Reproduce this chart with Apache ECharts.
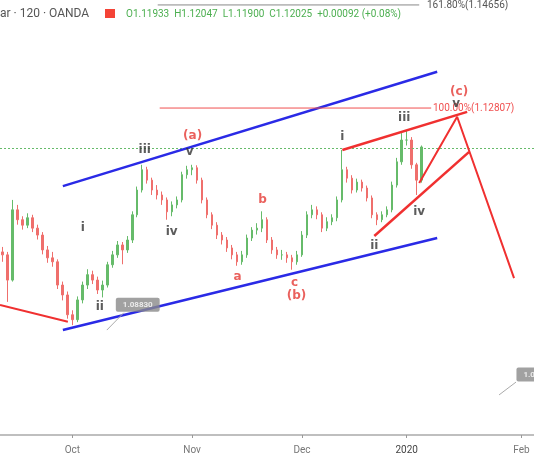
<!DOCTYPE html>
<html>
<head>
<meta charset="utf-8">
<script src="https://cdn.jsdelivr.net/npm/echarts@6/dist/echarts.min.js"></script>
<style>html,body{margin:0;padding:0;background:#fff}#main{width:534px;height:462px}</style>
</head>
<body>
<div id="main"></div>
<script>
// bar index -> [open, close, low, high]
let candles = [
    [1.0990, 1.0984, 1.0970, 1.1000], [1.0984, 1.0933, 1.0889, 1.0990], [1.0933, 1.1075, 1.0930, 1.1095],
    [1.1075, 1.1055, 1.1045, 1.1085], [1.1055, 1.1044, 1.1035, 1.1062], [1.1044, 1.1059, 1.1038, 1.1068],
    [1.1059, 1.1038, 1.1030, 1.1065], [1.1038, 1.1024, 1.1015, 1.1045], [1.1024, 1.0994, 1.0985, 1.1030],
    [1.0994, 1.0978, 1.0968, 1.1002], [1.0978, 1.0970, 1.0960, 1.0990], [1.0970, 1.0923, 1.0915, 1.0975],
    [1.0923, 1.0903, 1.0892, 1.0930], [1.0903, 1.0863, 1.0855, 1.0910], [1.0863, 1.0853, 1.0842, 1.0872],
    [1.0853, 1.0893, 1.0848, 1.0900], [1.0893, 1.0923, 1.0886, 1.0930], [1.0923, 1.0944, 1.0915, 1.0955],
    [1.0944, 1.0933, 1.0925, 1.0952], [1.0933, 1.0913, 1.0905, 1.0940], [1.0913, 1.0923, 1.0898, 1.0932],
    [1.0923, 1.0964, 1.0918, 1.0970], [1.0964, 1.0984, 1.0958, 1.0992], [1.0984, 1.1004, 1.0978, 1.1012],
    [1.1004, 1.0994, 1.0965, 1.1010], [1.0994, 1.1014, 1.0988, 1.1022], [1.1014, 1.1065, 1.1008, 1.1072],
    [1.1065, 1.1115, 1.1060, 1.1122], [1.1115, 1.1156, 1.1110, 1.1166], [1.1156, 1.1135, 1.1128, 1.1162],
    [1.1135, 1.1115, 1.1105, 1.1140], [1.1115, 1.1105, 1.1096, 1.1125], [1.1105, 1.1095, 1.1085, 1.1112],
    [1.1095, 1.1071, 1.1055, 1.1100], [1.1071, 1.1085, 1.1062, 1.1092], [1.1085, 1.1095, 1.1078, 1.1102],
    [1.1095, 1.1146, 1.1090, 1.1152], [1.1146, 1.1156, 1.1138, 1.1164], [1.1156, 1.1160, 1.1145, 1.1166],
    [1.1160, 1.1135, 1.1128, 1.1165], [1.1135, 1.1095, 1.1088, 1.1140], [1.1095, 1.1065, 1.1058, 1.1100],
    [1.1065, 1.1044, 1.1036, 1.1070], [1.1044, 1.1024, 1.1016, 1.1050], [1.1024, 1.1014, 1.1005, 1.1030],
    [1.1014, 1.0998, 1.0990, 1.1020], [1.0998, 1.0984, 1.0975, 1.1004], [1.0984, 1.0970, 1.0962, 1.0990],
    [1.0970, 1.0984, 1.0964, 1.0992], [1.0984, 1.1018, 1.0978, 1.1025], [1.1018, 1.1034, 1.1012, 1.1040],
    [1.1034, 1.1038, 1.1025, 1.1048], [1.1038, 1.1055, 1.1030, 1.1072], [1.1055, 1.1014, 1.1008, 1.1060],
    [1.1014, 1.0994, 1.0986, 1.1020], [1.0994, 1.0984, 1.0976, 1.1000], [1.0984, 1.0984, 1.0974, 1.0994],
    [1.0984, 1.0978, 1.0968, 1.0990], [1.0978, 1.0970, 1.0954, 1.0984], [1.0970, 1.0984, 1.0964, 1.0992],
    [1.0984, 1.1024, 1.0980, 1.1032], [1.1024, 1.1065, 1.1018, 1.1072], [1.1065, 1.1075, 1.1058, 1.1085],
    [1.1075, 1.1065, 1.1056, 1.1082], [1.1065, 1.1038, 1.1030, 1.1070], [1.1038, 1.1051, 1.1032, 1.1060],
    [1.1051, 1.1059, 1.1044, 1.1066], [1.1059, 1.1095, 1.1052, 1.1102], [1.1095, 1.1156, 1.1090, 1.1196],
    [1.1156, 1.1139, 1.1130, 1.1162], [1.1139, 1.1115, 1.1108, 1.1145], [1.1115, 1.1131, 1.1110, 1.1138],
    [1.1131, 1.1119, 1.1112, 1.1136], [1.1119, 1.1099, 1.1092, 1.1124], [1.1099, 1.1065, 1.1058, 1.1104],
    [1.1065, 1.1055, 1.1044, 1.1070], [1.1055, 1.1065, 1.1050, 1.1072], [1.1065, 1.1075, 1.1060, 1.1082],
    [1.1075, 1.1125, 1.1070, 1.1132], [1.1125, 1.1172, 1.1120, 1.1180], [1.1172, 1.1216, 1.1166, 1.1230],
    [1.1216, 1.1216, 1.1205, 1.1236], [1.1216, 1.1166, 1.1158, 1.1222], [1.1166, 1.1135, 1.1105, 1.1170],
    [1.1135, 1.1202, 1.1130, 1.1205]
];
let monthTicks = [14, 38, 60, 81, 104];
let monthLabels = ['Oct', 'Nov', 'Dec', '2020', 'Feb'];
let lastClose = 1.12025;

let channelTop = [[12.1, 1.1123], [87.1, 1.1354]];
let channelBottom = [[12.1, 1.0832], [87.1, 1.1018]];
let leftTrend = [[-0.5, 1.0883], [13.1, 1.0849]];
let fib100 = [[31.5, 1.12807], [85.9, 1.12807]];
let fib161 = [[31.1, 1.1489], [83.5, 1.1489]];
let wedgeTop = [[68.1, 1.1196], [93.1, 1.1273]];
let wedgeBottom = [[74.5, 1.1022], [93.5, 1.1192]];
let projection = [[83.5, 1.1129], [91.1, 1.1263], [102.5, 1.0937]];
let pointerA = [[20.9, 1.0832], [24.3, 1.0867]];
let pointerB = [[99.5, 1.0701], [102.9, 1.0727]];

// [index, price, text, colour]
let waveLabels = [
    [16.1, 1.1038, 'i', '#333'], [19.5, 1.0879, 'ii', '#333'], [28.5, 1.1196, 'iii', '#333'],
    [33.9, 1.1030, 'iv', '#333'], [37.5, 1.1192, 'v', '#333'], [38.1, 1.1224, '(a)', '#e53935'],
    [47.1, 1.0939, 'a', '#e53935'], [52.1, 1.1095, 'b', '#e53935'], [58.5, 1.0927, 'c', '#e53935'],
    [58.9, 1.0901, '(b)', '#e53935'], [68.1, 1.1222, 'i', '#333'], [74.5, 1.1002, 'ii', '#333'],
    [80.5, 1.1261, 'iii', '#333'], [83.5, 1.1071, 'iv', '#333'], [91.5, 1.1313, '(c)', '#e53935'],
    [90.9, 1.1289, 'v', '#333']
];
let priceTags = [[27.1, 1.0883, '1.08830'], [106, 1.0742, '1.07']];

function lineSeries(data, color, width, type) {
    return {
        type: 'line', data: data, symbol: 'none', silent: true, z: 5,
        lineStyle: {color: color, width: width, type: type || 'solid'}
    };
}

let myChart = echarts.init(document.getElementById('main'));
myChart.setOption({
    animation: false,
    grid: {left: 0, right: 0, top: 0, bottom: 27},
    xAxis: {
        type: 'value', min: -0.5, max: 106.5,
        splitLine: {show: false},
        axisLine: {lineStyle: {color: '#aaa', width: 1.5}},
        axisTick: {show: true, customValues: monthTicks, length: 3, lineStyle: {color: '#999'}},
        axisLabel: {
            customValues: monthTicks, color: '#777', fontSize: 10, fontFamily: 'Roboto', margin: 10,
            formatter: function (v) {
                let s = monthLabels[monthTicks.indexOf(v)];
                return s === '2020' ? '{b|' + s + '}' : s;
            },
            rich: {b: {color: '#444', fontSize: 10, fontFamily: 'Roboto'}}
        }
    },
    yAxis: {type: 'value', min: 1.0620, max: 1.1499, show: false, splitLine: {show: false}},
    series: [
        {
            type: 'candlestick', barWidth: 2,
            data: candles.map(function (c, i) { return [i, c[0], c[1], c[2], c[3]]; }),
            encode: {x: 0, y: [1, 2, 3, 4]},
            itemStyle: {color: '#66bb6a', color0: '#ef6f6c', borderColor: '#66bb6a', borderColor0: '#ef6f6c', borderWidth: 1},
            markLine: {
                silent: true, symbol: 'none', label: {show: false},
                lineStyle: {color: '#66bb6a', type: [2, 2], width: 1},
                data: [{yAxis: lastClose}]
            }
        },
        lineSeries(channelTop, '#2a2ae6', 2.5),
        lineSeries(channelBottom, '#2a2ae6', 2.5),
        lineSeries(leftTrend, '#f03030', 2),
        lineSeries(fib100, '#f05050', 1),
        lineSeries(fib161, '#888', 1),
        lineSeries(wedgeTop, '#f03030', 2.5),
        lineSeries(wedgeBottom, '#f03030', 2.5),
        lineSeries(projection, '#f03030', 2),
        lineSeries(pointerA, '#aaa', 1),
        lineSeries(pointerB, '#aaa', 1),
        {
            type: 'scatter', symbolSize: 0, z: 10, silent: true,
            data: waveLabels.map(function (d) {
                return {value: [d[0], d[1]], label: {show: true, formatter: d[2], color: d[3]}};
            }),
            label: {fontSize: 12, fontWeight: 'bold', fontFamily: 'DejaVu Sans', position: 'inside'}
        },
        {
            type: 'scatter', symbolSize: 0, z: 11, silent: true,
            data: priceTags.map(function (d) {
                return {value: [d[0], d[1]], label: {show: true, formatter: d[2]}};
            }),
            label: {
                position: 'inside', color: '#fff', fontSize: 8, fontWeight: 'bold', fontFamily: 'Roboto',
                backgroundColor: '#8a8a8a', padding: [3, 7], borderRadius: 2
            }
        }
    ],
    graphic: [
        {type: 'text', left: 0, top: 8, style: {text: 'ar · 120 · OANDA', fill: '#555', font: '12px Roboto'}},
        {type: 'rect', left: 105, top: 9, shape: {width: 10, height: 9}, style: {fill: '#f44336'}},
        {type: 'text', left: 126, top: 9, style: {text: 'O1.11933  H1.12047  L1.11900  C1.12025  +0.00092 (+0.08%)', fill: '#4caf50', font: '10px Roboto'}},
        {type: 'text', left: 427, top: 0, style: {text: '161.80%(1.14656)', fill: '#555', font: '10px Roboto'}},
        {type: 'text', left: 433, top: 103, style: {text: '100.00%(1.12807)', fill: '#f05050', font: '10px Roboto'}}
    ]
});
</script>
</body>
</html>
